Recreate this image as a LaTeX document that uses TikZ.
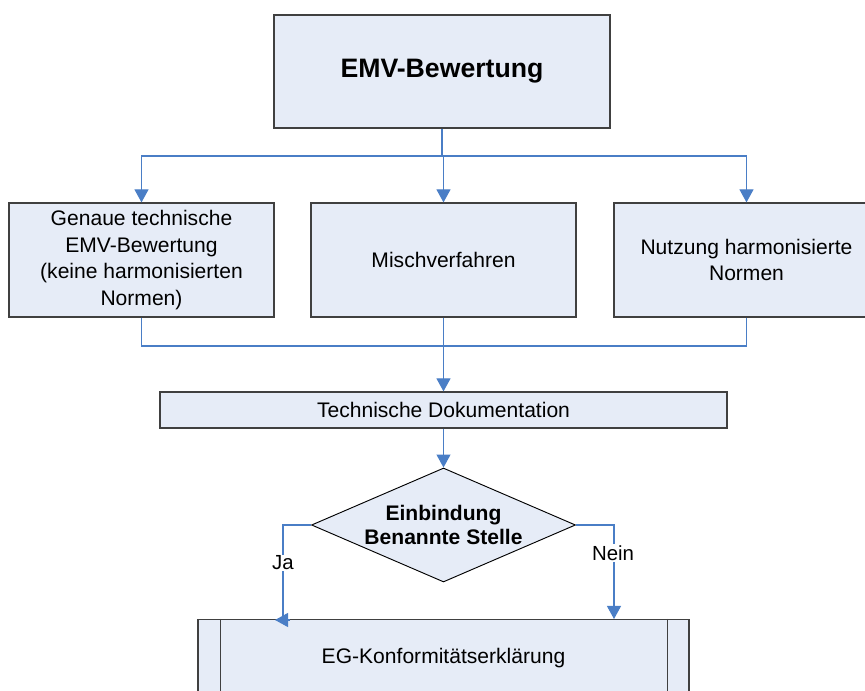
\documentclass[tikz,border=0pt]{standalone}
\usepackage{fontspec}
\setmainfont{Liberation Sans}
\usetikzlibrary{shapes.geometric,arrows.meta,calc}
\definecolor{boxfill}{HTML}{E6ECF7}
\definecolor{boxline}{HTML}{404040}
\definecolor{conn}{HTML}{4A7EC6}
\begin{document}
\begin{tikzpicture}[x=0.75pt,y=-0.75pt,
  box/.style={draw=boxline,line width=0.9pt,fill=boxfill,rectangle,inner sep=0pt,align=center,
    font=\fontsize{15.8}{20}\selectfont},
  dia/.style={draw=black,line width=0.7pt,fill=boxfill,diamond,aspect=2.316,inner sep=0pt,align=center,
    font=\bfseries\fontsize{15.8}{17.5}\selectfont},
  link/.style={draw=conn,line width=0.8pt},
  arr/.style={link,-{Triangle[width=10.5pt,length=9.75pt]}},
  lbl/.style={fill=white,inner sep=1pt,font=\fontsize{15.3}{17}\selectfont}]
\useasboundingbox (0,0) rectangle (865,691);
\clip (0,0) rectangle (865,691);
\node[box,minimum width=252pt,minimum height=84.75pt,font=\bfseries\fontsize{20}{24}\selectfont] (top) at (442,71.5) {EMV-Bewertung};
\node[box,minimum width=198.75pt,minimum height=85.5pt] (left) at (141.5,260) {Genaue technische\\EMV-Bewertung\\(keine harmonisierten\\Normen)};
\node[box,minimum width=198.75pt,minimum height=85.5pt] (mid) at (443.5,260) {Mischverfahren};
\node[box,minimum width=198.75pt,minimum height=85.5pt] (right) at (746.5,260) {Nutzung harmonisierte\\Normen};
\node[box,minimum width=425.25pt,minimum height=27pt] (tech) at (443.5,410) {Technische Dokumentation};
\node[dia,minimum width=198pt,minimum height=85.5pt] (dec) at (443.5,525) {Einbindung\\Benannte Stelle};
\node[box,minimum width=368.25pt,minimum height=75pt,anchor=north] (eg) at (443.5,619) {};
\node[font=\fontsize{15.8}{18}\selectfont] (egtext) at (443.5,658) {EG-Konformitätserklärung};
\draw[boxline,line width=0.9pt] (eg.north west) ++(23,0) coordinate (egl1) -- (egl1 |- eg.south);
\draw[boxline,line width=0.9pt] (eg.north east) ++(-22,0) coordinate (egr1) -- (egr1 |- eg.south);
% top fan-out
\coordinate (split) at (442,156);
\draw[link] (top.south) -- (split);
\draw[arr] (split) -| (left.north);
\draw[arr] (split) -| (right.north);
\draw[arr] (split) -| (mid.north);
% join
\coordinate (join) at (443.5,346);
\draw[link] (left.south) |- (join);
\draw[link] (right.south) |- (join);
\draw[arr] (mid.south) -- (tech.north);
\draw[arr] (tech.south) -- (dec.north);
% Ja
\coordinate (jacorner) at (283,620);
\coordinate (jabase) at (290,620);
\coordinate (jaend) at (275,620);
\draw[link] (dec.west) -| (jacorner);
\draw[arr] (jabase) -- (jaend);
\node[lbl] (ja) at (283,563) {Ja};
% Nein
\coordinate (neinend) at (614,619);
\draw[arr] (dec.east) -| (neinend);
\node[lbl] (nein) at (613,553) {Nein};
\end{tikzpicture}
\end{document}
